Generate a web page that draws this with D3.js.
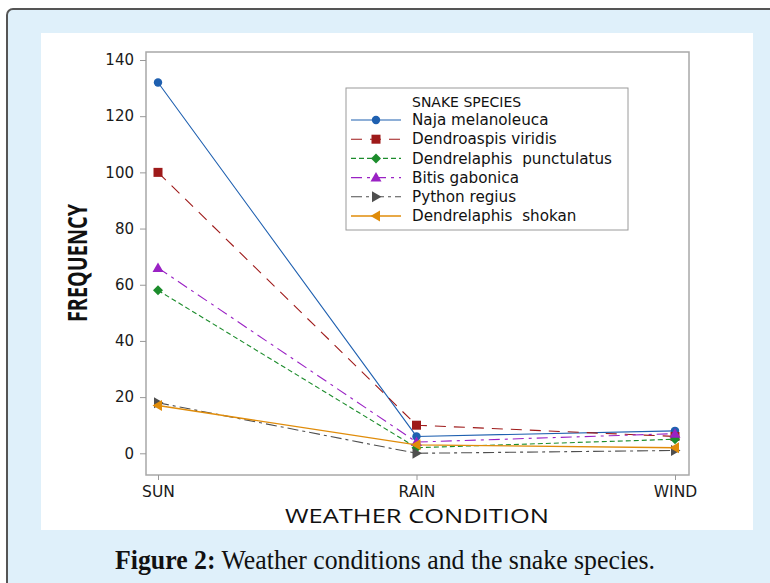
<!DOCTYPE html>
<html>
<head>
<meta charset="utf-8">
<script src="https://cdn.jsdelivr.net/npm/d3@7"></script>
<style>
html,body{margin:0;padding:0;background:#fff;}
svg{display:block;}
</style>
</head>
<body>
<svg id="chart" width="770" height="583"></svg>
<script>
// ---- data ----
const categories = ["SUN", "RAIN", "WIND"];
const seriesNames = ["Naja melanoleuca", "Dendroaspis viridis", "Dendrelaphis  punctulatus", "Bitis gabonica", "Python regius", "Dendrelaphis  shokan"];
const najaValues = [132, 6, 8];
const dendroaspisValues = [100, 10, 6];
const punctulatusValues = [58, 2, 5];
const bitisValues = [66, 4, 7];
const pythonValues = [18, 0, 1];
const shokanValues = [17, 3, 2];
const yTicks = [0, 20, 40, 60, 80, 100, 120, 140];
const legendTitle = "SNAKE SPECIES";
const xTitle = "WEATHER CONDITION";
const yTitle = "FREQUENCY";
const captionBold = "Figure 2:";
const captionText = " Weather conditions and the snake species.";

const styles = [
  {color:"#1f60b0", dash:null, sym:"circle", w:1.1},
  {color:"#9e1a1a", dash:"11,8", sym:"square", w:1.1},
  {color:"#1c8c2c", dash:"5,3", sym:"diamond", w:1.1},
  {color:"#9a22c4", dash:"11,5,3,5", sym:"tup", w:1.1},
  {color:"#4f4f4f", dash:"11,4,3,4", sym:"tright", w:1.1},
  {color:"#e08c0a", dash:null, sym:"tleft", w:1.4}
];
const allValues = [najaValues, dendroaspisValues, punctulatusValues, bitisValues, pythonValues, shokanValues];
const series = seriesNames.map((n,i)=>({name:n, values:allValues[i], style:styles[i]}));

const svg = d3.select("#chart");

// frame & background
svg.append("rect").attr("x",7).attr("y",9).attr("width",790).attr("height",600)
  .attr("rx",6).attr("fill","#dff0fa").attr("stroke","#555").attr("stroke-width",2);
svg.append("rect").attr("x",41).attr("y",33).attr("width",712).attr("height",497).attr("fill","#fff");

// scales
const plot = {left:146, right:689, top:52, bottom:475};
const x = d3.scalePoint().domain(categories).range([158, 675]);
const y = d3.scaleLinear().domain([0,140]).range([453.3, 60]);

// plot box
svg.append("rect").attr("x",plot.left).attr("y",plot.top)
  .attr("width",plot.right-plot.left).attr("height",plot.bottom-plot.top)
  .attr("fill","none").attr("stroke","#a8a8a8").attr("stroke-width",1.5);

const font = "'DejaVu Sans', 'Open Sans', sans-serif";
const titleFont = "'Open Sans', 'DejaVu Sans', sans-serif";

// y axis
const yAxis = svg.append("g").attr("transform",`translate(${plot.left},0)`)
  .call(d3.axisLeft(y).tickValues(yTicks).tickSize(6).tickPadding(6));
yAxis.select(".domain").remove();
yAxis.selectAll("line").attr("stroke","#999");
yAxis.selectAll("text").attr("font-family",font).attr("font-size",15).attr("fill","#1a1a1a");

// x axis
const xAxis = svg.append("g").attr("transform",`translate(0,${plot.bottom})`)
  .call(d3.axisBottom(x).tickSize(5).tickPadding(6));
xAxis.select(".domain").remove();
xAxis.selectAll("line").attr("stroke","#999");
xAxis.selectAll("text").attr("font-family",font).attr("font-size",15.5).attr("fill","#1a1a1a");

// axis titles
svg.append("text").attr("x",417).attr("y",523).attr("text-anchor","middle")
  .attr("font-family",titleFont).attr("font-size",20).attr("fill","#111")
  .attr("textLength",264).attr("lengthAdjust","spacingAndGlyphs").text(xTitle);
svg.append("text").attr("transform","translate(87,263) rotate(-90)").attr("text-anchor","middle")
  .attr("font-family",titleFont).attr("font-size",26).attr("font-weight",700).attr("fill","#111")
  .attr("textLength",118).attr("lengthAdjust","spacingAndGlyphs").text(yTitle);

// symbol helper
function drawSymbol(g, sym, cx, cy, color){
  let s;
  switch(sym){
    case "circle": s = g.append("circle").attr("cx",cx).attr("cy",cy).attr("r",4.2); break;
    case "square": s = g.append("rect").attr("x",cx-4.5).attr("y",cy-4.5).attr("width",9).attr("height",9); break;
    case "diamond": s = g.append("path").attr("d",`M${cx},${cy-5}L${cx+5},${cy}L${cx},${cy+5}L${cx-5},${cy}Z`); break;
    case "tup": s = g.append("path").attr("d",`M${cx},${cy-5.5}L${cx+5.5},${cy+4}L${cx-5.5},${cy+4}Z`); break;
    case "tright": s = g.append("path").attr("d",`M${cx+5.5},${cy}L${cx-4},${cy-5.5}L${cx-4},${cy+5.5}Z`); break;
    case "tleft": s = g.append("path").attr("d",`M${cx-5.5},${cy}L${cx+4},${cy-5.5}L${cx+4},${cy+5.5}Z`); break;
  }
  s.attr("fill",color);
}

// lines
const line = d3.line().x((d,i)=>x(categories[i])).y(d=>y(d));
const gLines = svg.append("g");
series.forEach(s=>{
  gLines.append("path").datum(s.values).attr("d",line).attr("fill","none")
    .attr("stroke",s.style.color).attr("stroke-width",s.style.w)
    .attr("stroke-dasharray",s.style.dash);
});
series.forEach(s=>{
  s.values.forEach((v,i)=>drawSymbol(gLines, s.style.sym, x(categories[i]), y(v), s.style.color));
});

// legend
const lg = svg.append("g");
lg.append("rect").attr("x",346).attr("y",88).attr("width",282).attr("height",142)
  .attr("fill","#fff").attr("stroke","#9a9a9a").attr("stroke-width",1);
lg.append("text").attr("x",412).attr("y",106.5).attr("font-family",font).attr("font-size",14)
  .attr("fill","#111").text(legendTitle);
series.forEach((s,i)=>{
  const cy = 120 + i*19.2;
  lg.append("line").attr("x1",351).attr("x2",401).attr("y1",cy).attr("y2",cy)
    .attr("stroke",s.style.color).attr("stroke-width",s.style.w)
    .attr("stroke-dasharray",s.style.dash);
  drawSymbol(lg, s.style.sym, 376, cy, s.style.color);
  lg.append("text").attr("x",412).attr("y",cy+5.2).attr("font-family",font).attr("font-size",15.2)
    .attr("fill","#111").style("white-space","pre").text(s.name);
});

// caption
const cap = svg.append("text").attr("x",385).attr("y",569).attr("text-anchor","middle")
  .attr("font-family","'Liberation Serif', 'DejaVu Serif', serif").attr("font-size",27).attr("fill","#111")
  .attr("textLength",540).attr("lengthAdjust","spacingAndGlyphs");
cap.append("tspan").attr("font-weight",700).text(captionBold);
cap.append("tspan").style("white-space","pre").text(captionText);
</script>
</body>
</html>
